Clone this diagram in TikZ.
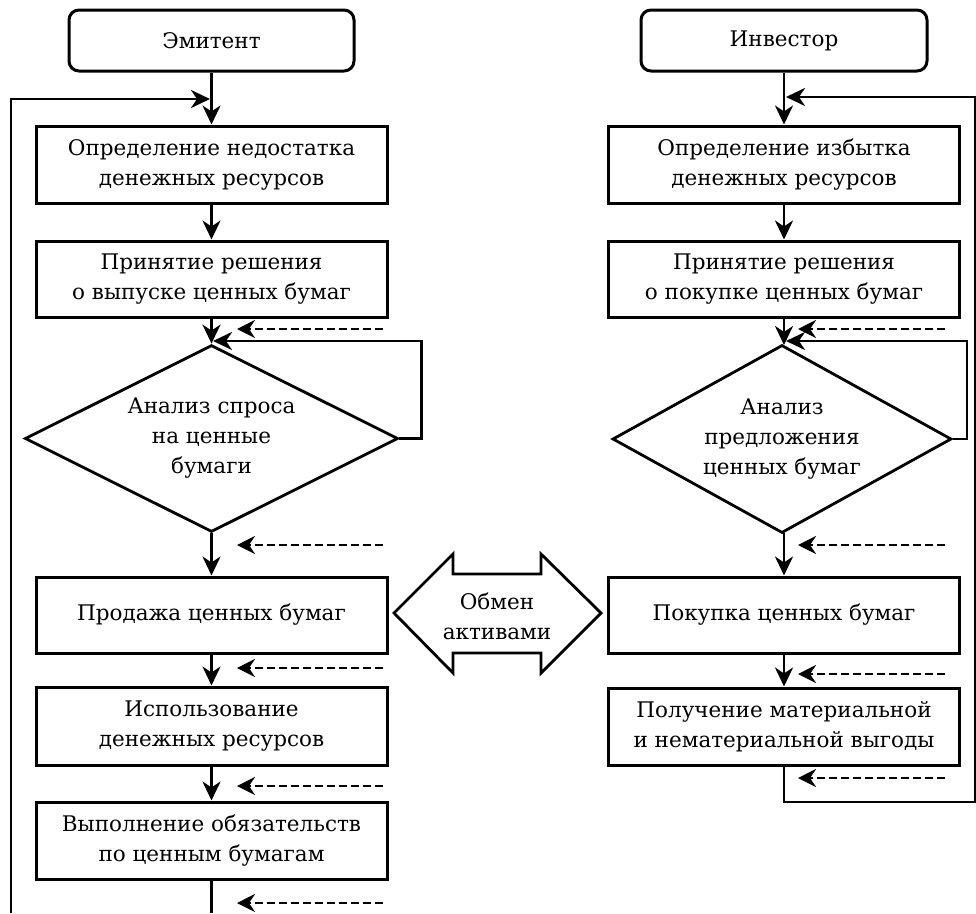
\documentclass[tikz,border=0pt]{standalone}
\usepackage{fontspec}
\setmainfont{DejaVu Serif}
\usetikzlibrary{arrows.meta,shapes.geometric}
\begin{document}
\begin{tikzpicture}[x=1pt,y=-1pt,
  every node/.style={font=\fontsize{21.5}{30}\selectfont, align=center, inner sep=0pt},
  stepbox/.style={draw, line width=3pt, minimum width=351pt},
  termbox/.style={draw, line width=3pt, rounded corners=10pt, minimum height=61pt},
  decbox/.style={draw, line width=2.8pt, shape=diamond, aspect=2},
  conn/.style={line width=2.8pt, -{Stealth[length=19pt,width=18pt,inset=6pt]}},
  plain/.style={line width=2.8pt},
  dashin/.style={line width=2.8pt, dash pattern=on 8pt off 4pt, -{Stealth[length=18pt,width=18pt,inset=6pt]}}
]
\useasboundingbox (0,0) rectangle (976,913);

% ---------- left column ----------
\node[termbox, minimum width=285pt] (em) at (211.5,40.5) {Эмитент};
\node[stepbox, minimum height=77pt] (l1) at (211.5,164.5) {Определение недостатка\\денежных ресурсов};
\node[stepbox, minimum height=76pt] (l2) at (211.5,279) {Принятие решения\\о выпуске ценных бумаг};
\node[decbox, minimum width=373pt, minimum height=187pt] (ld) at (211.5,438.5) {Анализ спроса\\на ценные\\бумаги};
\node[stepbox, minimum height=76pt] (lsell) at (211.5,615) {Продажа ценных бумаг};
\node[stepbox, minimum height=78pt] (luse) at (211.5,726) {Использование\\денежных ресурсов};
\node[stepbox, minimum height=77pt] (lobl) at (211.5,840.5) {Выполнение обязательств\\по ценным бумагам};

% ---------- right column ----------
\node[termbox, minimum width=286pt] (inv) at (784,40.5) {Инвестор};
\node[stepbox, minimum height=77pt] (r1) at (784,164.5) {Определение избытка\\денежных ресурсов};
\node[stepbox, minimum height=76pt] (r2) at (784,279) {Принятие решения\\о покупке ценных бумаг};
\node[decbox, minimum width=339pt, minimum height=188pt] (rd) at (782,439) {Анализ\\предложения\\ценных бумаг};
\node[stepbox, minimum height=76pt] (rbuy) at (784,615) {Покупка ценных бумаг};
\node[stepbox, minimum height=77pt] (rget) at (784,726.5) {Получение материальной\\и нематериальной выгоды};

% ---------- exchange arrow ----------
\draw[line width=2.8pt, line join=miter] (394,613) -- (453,554) -- (453,574) -- (541,574) -- (541,554)
  -- (601,613) -- (541,673) -- (541,653) -- (453,653) -- (453,673) -- cycle;
\node (ex) at (497,616) {Обмен\\активами};

% ---------- coordinates ----------
\coordinate (lbot) at (211.5,913);
\coordinate (fbLs) at (11,913);
\coordinate (fbLe) at (210,99);
\coordinate (lloop) at (213,341);
\coordinate (rbot) at (784,802);
\coordinate (fbRc) at (975,802);
\coordinate (fbRe) at (786,97);
\coordinate (rloop) at (786,341);
\coordinate (rtop) at (784,345);
\coordinate (rlow) at (784,533);

% ---------- left connectors ----------
\draw[conn] (em) -- (l1);
\draw[plain] (fbLs) -- (11,99) -- (190,99);
\draw[conn] (190,99) -- (fbLe);
\draw[conn] (l1) -- (l2);
\draw[conn] (l2) -- (ld.north);
\draw[conn] (ld.east) -- ++(22,0) |- (lloop);
\draw[conn] (ld.south) -- (lsell);
\draw[conn] (lsell) -- (luse);
\draw[conn] (luse) -- (lobl);
\draw[plain] (lobl) -- (lbot);

% ---------- right connectors ----------
\draw[conn] (inv) -- (r1);
\draw[conn] (rget.south) -- (rbot) -- (fbRc) -- (975,97) -- (fbRe);
\draw[conn] (r1) -- (r2);
\draw[conn] (r2) -- (rtop);
\draw[conn] (rd.east) -- (967,439) |- (rloop);
\draw[conn] (rlow) -- (rbuy);
\draw[conn] (rbuy) -- (rget);

% ---------- dashed inputs ----------
\foreach \y [count=\i] in {329,545,668,786,903}{
  \coordinate (lds\i) at (383,\y);
  \coordinate (lde\i) at (237,\y);
  \draw[dashin] (lds\i) -- (lde\i);
}
\foreach \y [count=\i] in {329,545,674,778}{
  \coordinate (rds\i) at (945,\y);
  \coordinate (rde\i) at (798,\y);
  \draw[dashin] (rds\i) -- (rde\i);
}
\end{tikzpicture}
\end{document}
